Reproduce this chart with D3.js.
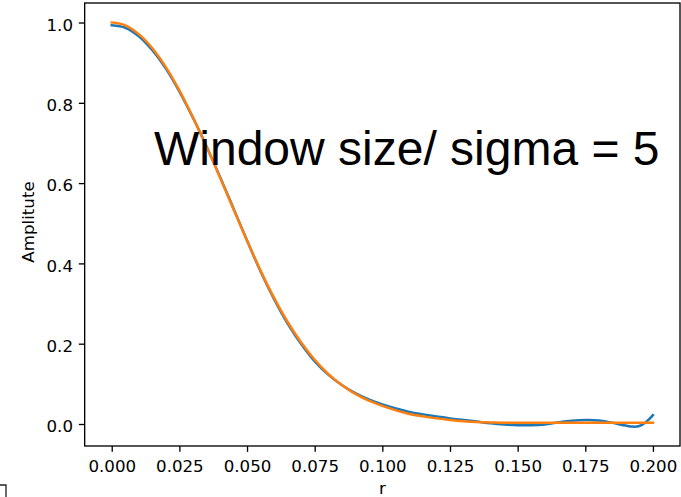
<!DOCTYPE html>
<html>
<head>
<meta charset="utf-8">
<script src="https://cdn.jsdelivr.net/npm/d3@7"></script>
<style>
  html, body { margin: 0; padding: 0; background: #fff; }
  svg { display: block; }
</style>
</head>
<body>
<svg id="chart" width="681" height="497"></svg>
<script>
// ---- data ----
const rValues = [0.000, 0.005, 0.010, 0.015, 0.020, 0.025, 0.030, 0.035, 0.040, 0.045,
                 0.050, 0.055, 0.060, 0.065, 0.070, 0.075, 0.080, 0.085, 0.090, 0.095,
                 0.100, 0.105, 0.110, 0.115, 0.120, 0.125, 0.130, 0.135, 0.140, 0.145,
                 0.150, 0.155, 0.160, 0.165, 0.170, 0.175, 0.180, 0.185, 0.190, 0.1925,
                 0.195, 0.1975, 0.200];
const blueValues = [0.993, 0.987, 0.966, 0.931, 0.885, 0.828, 0.763, 0.692, 0.616, 0.537,
                    0.457, 0.380, 0.311, 0.250, 0.199, 0.156, 0.123, 0.097, 0.077, 0.061,
                    0.049, 0.039, 0.030, 0.024, 0.019, 0.014, 0.010, 0.006, 0.002, -0.001,
                    -0.003, -0.003, -0.001, 0.004, 0.008, 0.010, 0.009, 0.003, -0.004, -0.0065,
                    -0.005, 0.005, 0.022];
const orangeValues = [1.000, 0.993, 0.971, 0.936, 0.889, 0.831, 0.764, 0.691, 0.614, 0.535,
                      0.457, 0.382, 0.314, 0.254, 0.203, 0.160, 0.125, 0.097, 0.075, 0.058,
                      0.045, 0.034, 0.025, 0.019, 0.014, 0.010, 0.007, 0.005, 0.004, 0.003,
                      0.003, 0.003, 0.003, 0.003, 0.003, 0.003, 0.003, 0.003, 0.003, 0.003,
                      0.003, 0.003, 0.003];
const xTicks = [0.000, 0.025, 0.050, 0.075, 0.100, 0.125, 0.150, 0.175, 0.200];
const yTicks = [0.0, 0.2, 0.4, 0.6, 0.8, 1.0];
const xDomain = [-0.01, 0.21];
const yDomain = [-0.0548, 1.0486];
const annotation = "Window size/ sigma = 5";
const xLabel = "r";
const yLabel = "Amplitute";

// ---- layout ----
const plot = { left: 84.67, right: 680, top: 3, bottom: 446 };
const tickLen = 5.83;
const tickFont = "DejaVu Sans, sans-serif";
const tickSize = 16.67;

const svg = d3.select("#chart");

const x = d3.scaleLinear().domain(xDomain).range([plot.left, plot.right]);
const y = d3.scaleLinear().domain(yDomain).range([plot.bottom, plot.top]);

// lines
const line = d3.line()
  .x(d => x(d[0]))
  .y(d => y(d[1]))
  .curve(d3.curveCatmullRom.alpha(0.5));

const series = [
  { values: blueValues, color: "#1f77b4" },
  { values: orangeValues, color: "#ff7f0e" }
];
series.forEach(s => {
  svg.append("path")
    .datum(rValues.map((r, i) => [r, s.values[i]]))
    .attr("d", line)
    .attr("fill", "none")
    .attr("stroke", s.color)
    .attr("stroke-width", 2.5)
    .attr("stroke-linecap", "square")
    .attr("stroke-linejoin", "round");
});

// axes
const xAxis = d3.axisBottom(x)
  .tickValues(xTicks)
  .tickFormat(d3.format(".3f"))
  .tickSize(tickLen)
  .tickPadding(5.83);
const yAxis = d3.axisLeft(y)
  .tickValues(yTicks)
  .tickFormat(d3.format(".1f"))
  .tickSize(tickLen)
  .tickPadding(5.83);

const gx = svg.append("g").attr("transform", `translate(0,${plot.bottom})`).call(xAxis);
const gy = svg.append("g").attr("transform", `translate(${plot.left},0)`).call(yAxis);

[gx, gy].forEach(g => {
  g.select(".domain").remove();
  g.selectAll(".tick line").attr("stroke", "#000").attr("stroke-width", 1.33);
  g.selectAll(".tick text")
    .attr("fill", "#000")
    .style("font-family", tickFont)
    .style("font-size", tickSize + "px");
});
gx.selectAll(".tick text").attr("dy", null).attr("y", 26);
gy.selectAll(".tick text").attr("dy", null).attr("y", 7.8);

// frame (spines)
svg.append("rect")
  .attr("x", plot.left)
  .attr("y", plot.top)
  .attr("width", plot.right - plot.left)
  .attr("height", plot.bottom - plot.top)
  .attr("fill", "none")
  .attr("stroke", "#000")
  .attr("stroke-width", 1.33);

// axis labels
svg.append("text")
  .attr("x", (plot.left + plot.right) / 2)
  .attr("y", 494)
  .attr("text-anchor", "middle")
  .style("font-family", tickFont)
  .style("font-size", tickSize + "px")
  .attr("fill", "#000")
  .text(xLabel);

svg.append("text")
  .attr("transform", "translate(34,222) rotate(-90)")
  .attr("text-anchor", "middle")
  .style("font-family", tickFont)
  .style("font-size", tickSize + "px")
  .attr("fill", "#000")
  .text(yLabel);

// annotation
svg.append("text")
  .attr("x", 154)
  .attr("y", 165)
  .style("font-family", "'Liberation Sans', Arial, sans-serif")
  .style("font-size", "48px")
  .attr("fill", "#000")
  .text(annotation);

// small cropped artifact at the bottom-left corner
const corner = d3.path();
corner.moveTo(0, 485); corner.lineTo(6, 485); corner.lineTo(6, 497);
svg.append("path")
  .attr("d", corner.toString())
  .attr("fill", "none")
  .attr("stroke", "#222")
  .attr("stroke-width", 1.33);
</script>
</body>
</html>
